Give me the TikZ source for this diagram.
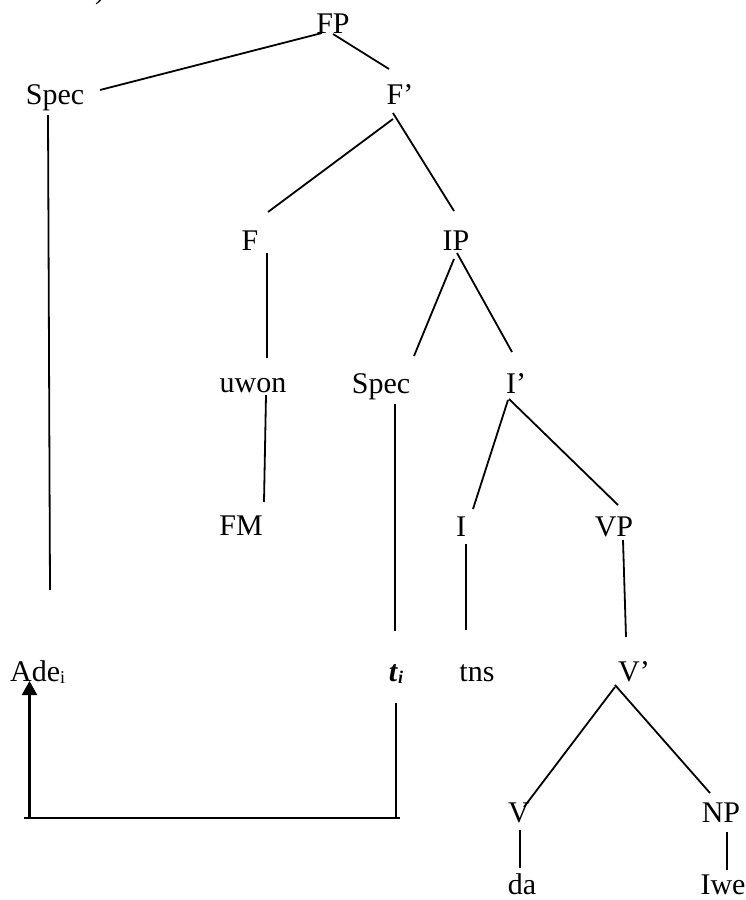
\documentclass[tikz,border=0pt]{standalone}
\usepackage{fontspec}
\setmainfont{Liberation Serif}
\usetikzlibrary{calc,arrows.meta}
\tikzset{
  lab/.style={anchor=base,inner sep=0pt,font=\fontsize{30}{36}\selectfont},
  edge/.style={line width=1.8pt},
  move/.style={line width=2.4pt},
}
\newcommand{\subi}[1]{\raisebox{-2pt}{\fontsize{18}{18}\selectfont #1}}
\begin{document}
\begin{tikzpicture}[x=1pt,y=-1pt]
\useasboundingbox[fill=white] (0,0) rectangle (746,900);
% nodes
\node[lab,anchor=base west] (frag) at (95,-1.5) {)};
\node[lab] (FP) at (333,33) {FP};
\node[lab] (SpecL) at (55,104) {Spec};
\node[lab] (Fp) at (400,104) {F’};
\node[lab] (F) at (250,250) {F};
\node[lab] (IP) at (456,250) {IP};
\node[lab] (uwon) at (253,392) {uwon};
\node[lab] (SpecM) at (381,393) {Spec};
\node[lab] (Ip) at (516,393) {I’};
\node[lab] (FM) at (241,535) {FM};
\node[lab] (I) at (461,536) {I};
\node[lab] (VP) at (614,536) {VP};
\node[lab,anchor=base west] (Ade) at (10,681) {Ade\subi{i}};
\node[lab] (t) at (396,681) {\textbf{\textit{t}}\subi{\textbf{\textit{i}}}};
\node[lab] (tns) at (477,681) {tns};
\node[lab] (Vp) at (634,681) {V’};
\node[lab] (V) at (519,822) {V};
\node[lab] (NP) at (721,822) {NP};
\node[lab] (da) at (522,894) {da};
\node[lab] (Iwe) at (723,894) {Iwe};
% tree edges
\draw[edge] ($(FP.base)+(-11,0)$) -- ($(SpecL.base)+(45,-14)$);
\draw[edge] ($(FP.base)+(0,1)$) -- ($(Fp.base)+(-11,-35)$);
\draw[edge] ($(Fp.base)+(-7,15)$) -- ($(F.base)+(18,-38)$);
\draw[edge] ($(Fp.base)+(-7,9)$) -- ($(IP.base)+(-2,-39)$);
\draw[edge] ($(F.base)+(17,3)$) -- ($(uwon.base)+(14,-34)$);
\draw[edge] ($(uwon.base)+(13,3)$) -- ($(FM.base)+(23,-33)$);
\draw[edge] ($(IP.base)+(-2,9)$) -- ($(SpecM.base)+(33,-37)$);
\draw[edge] ($(IP.base)+(1,3)$) -- ($(Ip.base)+(-4,-41)$);
\draw[edge] ($(SpecM.base)+(14,11)$) -- ($(t.base)+(-1,-50)$);
\draw[edge] ($(Ip.base)+(-8,7)$) -- ($(I.base)+(12,-27)$);
\draw[edge] ($(Ip.base)+(-7,6)$) -- ($(VP.base)+(4,-31)$);
\draw[edge] ($(I.base)+(5,8)$) -- ($(tns.base)+(-11,-51)$);
\draw[edge] ($(VP.base)+(9,4)$) -- ($(Vp.base)+(-8,-44)$);
\draw[edge] ($(Vp.base)+(-19,6)$) -- ($(V.base)+(5,-15)$);
\draw[edge] ($(Vp.base)+(-19,4)$) -- ($(NP.base)+(-11,-29)$);
\draw[edge] ($(V.base)+(1,8)$) -- ($(da.base)+(-2,-26)$);
\draw[edge] ($(NP.base)+(6,10)$) -- ($(Iwe.base)+(4,-24)$);
\draw[edge] ($(SpecL.base)+(-7,11)$) -- ($(Ade.base west)+(40,-91)$);
% movement arrow
\coordinate (cornerL) at (29.5,818);
\coordinate (cornerR) at (396,818);
\draw[move] ($(t.base)+(0,22)$) -- (cornerR);
\draw[move] ($(cornerL)+(-5.5,0)$) -- ($(cornerR)+(4,0)$);
\draw[move,-{Triangle[width=15pt,length=14pt]}] (cornerL) -- ($(Ade.base west)+(19.5,0)$);
\end{tikzpicture}
\end{document}
